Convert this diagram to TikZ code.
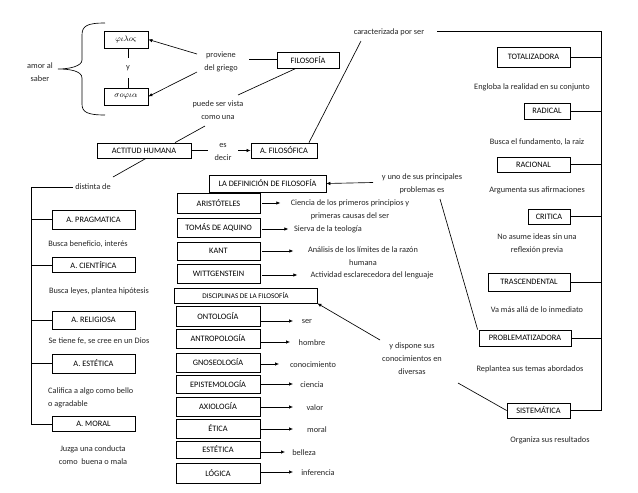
\documentclass[tikz,border=0pt]{standalone}
\usepackage{fontspec}
\setmainfont{Carlito}
\usetikzlibrary{arrows.meta}
\newcommand\fs{\fontsize{8.3}{13}\selectfont}
\newcommand\fss{\fontsize{7.2}{8}\selectfont}
\begin{document}
\begin{tikzpicture}[x=1pt,y=-1pt,
 box/.style={draw,line width=0.75pt,inner sep=0pt,font=\fs,align=center},
 lbl/.style={inner sep=0pt,font=\fs,align=center,text=black!85},
 ln/.style={line width=0.65pt},
 arr/.style={line width=0.65pt,-{Latex[length=4pt,width=3.5pt]}},
]
\fill[white] (0,0) rectangle (638,493);
\useasboundingbox (0,0) rectangle (638,493);

% top-left
\node[box,minimum width=44,minimum height=17] (filos) at (126,39.5) {$\varphi\iota\lambda o\varsigma$};
\node[box,minimum width=44,minimum height=17] (sofia) at (126,96.5) {$\sigma o\varphi\iota\alpha$};
\node[lbl,minimum height=20] (ylab) at (128,68) {y};
\node[lbl] (amor) at (40,72) {amor al\\saber};
\draw[ln] (105,23) .. controls (87,23) and (82,26) .. (82,35) -- (82,60) .. controls (82,66) and (70,69) .. (58,69)
  .. controls (70,69) and (82,71) .. (82,78) -- (82,104) .. controls (82,112) and (87,115) .. (105,115);
\draw[ln] (filos.south -| ylab) -- (ylab.north);
\draw[ln] (ylab.south) -- (sofia.north -| ylab);

\node[lbl] (prov) at (221,62) {proviene\\del griego};
\node[box,minimum width=62,minimum height=16] (filosofia) at (308,60) {FILOSOFÍA};
\coordinate (p1) at (197,54);
\coordinate (p2) at (197,72);
\coordinate (p3) at (249,59);
\draw[arr] (p1) -- (filos.east);
\draw[arr] (p2) -- (sofia.east);
\draw[ln] (p3) -- (p3 -| filosofia.west);

\node[lbl] (puede) at (218,110) {puede ser vista\\como una};
\coordinate (q1) at (238,95);
\coordinate (q2) at (205,126);
\draw[ln] ([xshift=-12pt]filosofia.south) -- (q1);
\node[box,minimum width=94,minimum height=15] (actitud) at (144,150.5) {ACTITUD HUMANA};
\draw[ln] (q2) -- ([xshift=31pt]actitud.north);

\node[lbl] (esdecir) at (223,152) {es\\decir};
\node[box,minimum width=66,minimum height=15] (afil) at (284,150.5) {A. FILOSÓFICA};
\coordinate (e1) at (208,150.5);
\coordinate (e2) at (238,150.5);
\draw[ln] (actitud.east) -- (e1);
\draw[arr] (e2) -- (afil.west);

\node[lbl] (caract) at (389,32) {caracterizada por ser};
\coordinate (c1) at (361,41);
\draw[ln] ([xshift=25pt]afil.north) -- (c1);
\coordinate (c2) at (437,31);
\coordinate (spine) at (601,31);

% right column
\node[box,minimum width=73,minimum height=20] (total) at (533.5,57) {TOTALIZADORA};
\node[lbl] (englo) at (532,87) {Engloba la realidad en su conjunto};
\node[box,minimum width=46,minimum height=16] (radical) at (547,111) {RADICAL};
\node[lbl] (busca) at (537,142) {Busca el fundamento, la raiz};
\node[box,minimum width=73,minimum height=15] (racional) at (533.5,164.5) {RACIONAL};
\node[lbl] (argum) at (537,190) {Argumenta sus afirmaciones};
\node[box,minimum width=42,minimum height=15] (critica) at (549,216.5) {CRITICA};
\node[lbl] (noasume) at (537,244) {No asume ideas sin una\\reflexión previa};
\node[box,minimum width=82,minimum height=18] (trasc) at (529,282) {TRASCENDENTAL};
\node[lbl] (vamas) at (537,310) {Va más allá de lo inmediato};
\node[box,minimum width=92,minimum height=16] (problem) at (525,338) {PROBLEMATIZADORA};
\node[lbl] (replan) at (530,369) {Replantea sus temas abordados};
\node[box,minimum width=63,minimum height=15] (sistem) at (538.5,410.5) {SISTEMÁTICA};
\node[lbl] (organ) at (550,440) {Organiza sus resultados};

\draw[ln] (c2) -- (spine) -- (spine |- sistem.east) -- (sistem.east);
\foreach \b in {total,radical,racional,critica,trasc,problem}
  \draw[ln] (\b.east) -- (\b.east -| spine);

% middle
\node[lbl] (yuno) at (422,184) {y uno de sus principales\\problemas es};
\node[box,minimum width=117,minimum height=17] (ladef) at (267.5,183.5) {LA DEFINICIÓN DE FILOSOFÍA};
\coordinate (u1) at (373,182.5);
\coordinate (u2) at (440,199);
\draw[arr] (u1) -- (ladef.east);
\draw[ln] (u2) -- ([xshift=-1pt]problem.north west);

\node[box,minimum width=83,minimum height=20] (arist) at (218.5,203) {ARISTÓTELES};
\node[box,minimum width=83,minimum height=19] (tomas) at (218.5,227.5) {TOMÁS DE AQUINO};
\node[box,minimum width=83,minimum height=18] (kant) at (218.5,251) {KANT};
\node[box,minimum width=83,minimum height=19] (witt) at (218.5,273.5) {WITTGENSTEIN};
\node[lbl] (cien) at (350,209.5) {Ciencia de los primeros principios y\\primeras causas del ser};
\node[lbl] (sierva) at (328,229) {Sierva de la teología};
\node[lbl] (anal) at (363,256.5) {Análisis de los límites de la razón\\humana};
\node[lbl] (activ) at (372,275) {Actividad esclarecedora del lenguaje};
\draw[arr] ([xshift=2pt]arist.east) -- ++(18,0) coordinate (a1);
\draw[arr] ([xshift=2pt]tomas.east |- 0,229) -- ++(26,0) coordinate (a2);
\draw[arr] ([xshift=2pt]kant.east) -- ++(31,0) coordinate (a3);
\draw[arr] ([xshift=2pt]witt.east |- 0,275) -- ++(35,0) coordinate (a4);

\node[box,minimum width=143,minimum height=15,font=\fss] (discip) at (245.5,295.5) {DISCIPLINAS DE LA FILOSOFÍA};
\node[lbl] (dispone) at (412,359) {y dispone sus\\conocimientos en\\diversas};
\coordinate (d1) at (380,340);
\coordinate (d2) at (458,383);
\draw[arr] (d1) -- (discip.south east);
\draw[ln] (d2) -- (sistem.west);

% disciplines
\foreach \n/\t/\c/\h/\ay/\ax/\l/\lx in {
  onto/ONTOLOGÍA/316/20/321/293/ser/307,
  antro/ANTROPOLOGÍA/338.5/19/342/290/hombre/312,
  gnose/GNOSEOLOGÍA/362.5/19/364/279/conocimiento/313,
  episte/EPISTEMOLOGÍA/384/18/384/293/ciencia/312,
  axio/AXIOLOGÍA/406.5/19/407/293/valor/315,
  etica/ÉTICA/428.5/19/429/293/moral/317,
  estet/ESTÉTICA/449.5/17/452/285/belleza/304,
  logica/LÓGICA/473/20/472/293/inferencia/318}{
  \node[box,minimum width=84,minimum height=\h] (\n) at (218,\c) {\t};
  \node[lbl] (\n-l) at (\lx,\ay+0.5) {\l};
  \draw[arr] (\n.east |- 0,\ay) -- (\ax,\ay);
}

% left column
\node[lbl] (distinta) at (93,187) {distinta de};
\coordinate (s1) at (113,177);
\draw[ln] ([xshift=2pt]actitud.south) -- (s1);
\coordinate (lspine) at (31,187);
\node[box,minimum width=83,minimum height=19] (prag) at (93.5,219.5) {A. PRAGMATICA};
\node[lbl] (bben) at (88,244) {Busca beneficio, interés};
\node[box,minimum width=83,minimum height=15] (cient) at (93.5,265) {A. CIENTÍFICA};
\node[lbl] (bley) at (99,291) {Busca leyes, plantea hipótesis};
\node[box,minimum width=83,minimum height=18] (relig) at (93.5,320) {A. RELIGIOSA};
\node[lbl] (sefe) at (99,341) {Se tiene fe, se cree en un Dios};
\node[box,minimum width=83,minimum height=19] (aest) at (93.5,363.5) {A. ESTÉTICA};
\node[lbl,align=left,anchor=west] (calif) at (48,397.5) {Califica a algo como bello\\o agradable};
\node[box,minimum width=83,minimum height=15] (moral) at (93.5,424) {A. MORAL};
\node[lbl] (juzga) at (93,455) {Juzga una conducta\\como \ buena o mala};

\draw[ln] ([xshift=-2pt]distinta.west) -- (lspine) -- (lspine |- moral.west) -- (moral.west);
\foreach \b in {prag,cient,relig,aest}
  \draw[ln] (\b.west) -- (\b.west -| lspine);
\end{tikzpicture}
\end{document}
